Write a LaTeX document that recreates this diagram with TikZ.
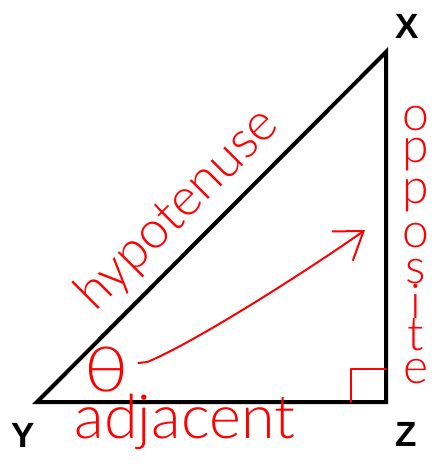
\documentclass[tikz,border=0pt]{standalone}
\usepackage{fontspec}
\setmainfont{Liberation Sans}
\IfFontExistsTF{Lato Light}{\newfontfamily\handfont{Lato Light}}{\newfontfamily\handfont{Liberation Sans}}
\IfFontExistsTF{DejaVu Sans ExtraLight}{\newfontfamily\thetafont{DejaVu Sans ExtraLight}}{\newfontfamily\thetafont{DejaVu Sans}}
\usetikzlibrary{arrows.meta}
\begin{document}
\begin{tikzpicture}[x=1pt,y=-1pt,
  vlabel/.style={font=\fontsize{35}{35}\selectfont\bfseries, inner sep=0pt},
  hand/.style={text=red, inner sep=0pt},
  redline/.style={draw=red, line width=2pt, line cap=round, line join=round},
  side/.style={draw=black, line width=4pt, line join=miter}]
\useasboundingbox (0,0) rectangle (436,467);
\coordinate (Y) at (37,402);
\coordinate (Z) at (386,402);
\coordinate (X) at (386,52);
\draw[side] (Y) -- (Z) -- (X) -- cycle;
\node[vlabel] (lx) at (407,26) {X};
\node[vlabel] (ly) at (23,435) {Y};
\node[vlabel] (lz) at (406,434) {Z};
\node[hand, rotate=45, font=\handfont\fontsize{52}{52}\selectfont] (hyp) at (178,210) {hypotenuse};
\node[hand, anchor=base, font=\handfont\fontsize{61}{61}\selectfont] (adj) at (185,438) {adjacent};
\foreach \l/\yy [count=\i] in {o/130, p/162, p/203, o/247, s/283, i/318, t/350, e/383}
  \node[hand, anchor=base, font=\handfont\fontsize{48}{48}\selectfont] (opp-\i) at (416,\yy) {\l};
\node[hand, font=\thetafont\fontsize{58}{58}\selectfont, xscale=1.3] (theta) at (107,370) {θ};
\coordinate (tip) at (365,230);
\draw[redline, -{Straight Barb[length=26pt,width=36pt]}]
  ([shift={(8,-7)}]theta.east) -- ++(9,-1) .. controls (200,340) and (320,262) .. (tip);
\draw[redline] ([xshift=-35pt]Z) -- ++(0,-33) -- ++(35,0);
\end{tikzpicture}
\end{document}
